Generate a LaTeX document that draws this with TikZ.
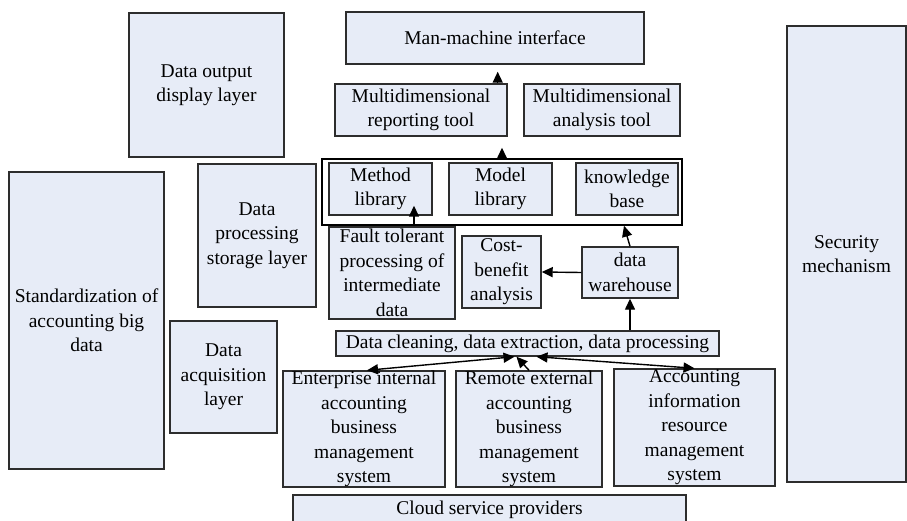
\documentclass[tikz,border=0pt]{standalone}
\usepackage{fontspec}
\setmainfont{Liberation Serif}
\usepackage{tikz}
\usetikzlibrary{arrows.meta, positioning, calc}
\definecolor{boxfill}{RGB}{231,236,247}
\definecolor{boxline}{RGB}{45,45,45}

\tikzset{
  layerbox/.style={draw=boxline, fill=boxfill, line width=1.4pt, align=center,
    inner sep=0pt, font=\fontsize{19.5}{24.5}\selectfont},
  groupbox/.style={draw=black, line width=1.4pt, inner sep=0pt},
  flow/.style={-{Triangle[length=11pt, width=10pt]}, line width=1.4pt},
  twoway/.style={{Triangle[length=11pt, width=10pt]}-{Triangle[length=11pt, width=10pt]}, line width=1.4pt},
}

\begin{document}
\begin{tikzpicture}[x=1pt, y=-1pt]
  \useasboundingbox (0,0) rectangle (907,521);

  % layer labels on the left
  \node[layerbox, minimum width=155, minimum height=144] (outlayer) at (206.5,85) {Data output\\display layer};
  \node[layerbox, minimum width=155, minimum height=297] (standard) at (86.5,320.5) {Standardization of\\accounting big\\data};
  \node[layerbox, minimum width=118, minimum height=143] (proclayer) at (257,235.5) {Data\\processing\\storage layer};
  \node[layerbox, minimum width=107, minimum height=112] (acqlayer) at (223.5,377) {Data\\acquisition\\layer};

  % security on the right
  \node[layerbox, minimum width=119, minimum height=456] (security) at (846.5,254) {Security\\mechanism};

  % output layer
  \node[layerbox, minimum width=298, minimum height=52] (mmi) at (495,38) {Man-machine interface};
  \node[layerbox, minimum width=172, minimum height=52] (report) at (421,110) {Multidimensional\\reporting tool};
  \node[layerbox, minimum width=156, minimum height=52] (analysis) at (602,110) {Multidimensional\\analysis tool};

  % libraries
  \node[groupbox, minimum width=360, minimum height=66] (libs) at (502,192) {};
  \node[layerbox, minimum width=103, minimum height=52] (method) at (380.5,189) {Method\\library};
  \node[layerbox, minimum width=103, minimum height=52] (model) at (500.5,189) {Model\\library};
  \node[layerbox, minimum width=102, minimum height=52] (know) at (627,189) {knowledge\\base};

  % processing and storage
  \node[layerbox, minimum width=126, minimum height=92] (fault) at (392,273) {Fault tolerant\\processing of\\intermediate\\data};
  \node[layerbox, minimum width=79, minimum height=72] (cost) at (501.5,272) {Cost-\\benefit\\analysis};
  \node[layerbox, minimum width=96, minimum height=51] (warehouse) at (630,272.5) {data\\warehouse};
  \node[layerbox, minimum width=383, minimum height=25] (cleaning) at (527.5,343.5) {Data cleaning, data extraction, data processing};

  % acquisition
  \node[layerbox, minimum width=162, minimum height=116] (internal) at (364,429) {Enterprise internal\\accounting\\business\\management\\system};
  \node[layerbox, minimum width=146, minimum height=116] (remote) at (529,429) {Remote external\\accounting\\business\\management\\system};
  \node[layerbox, minimum width=161, minimum height=117] (resource) at (694.5,427.5) {Accounting\\information\\resource\\management\\system};
  \node[layerbox, minimum width=393, minimum height=30] (cloud) at (489.5,510) {Cloud service providers};

  % connectors
  \draw[flow, shorten >=7pt] ([xshift=-10pt]report.north east) -- ([xshift=-10pt]report.north east |- mmi.south);
  \draw[flow, shorten >=11pt] (libs.north) -- (libs.north |- report.south);
  \draw[flow, shorten >=-10pt] ([xshift=22pt]fault.north) -- ([xshift=22pt]fault.north |- method.south);
  \draw[flow] (warehouse.north) -- ([xshift=-6pt]warehouse.north |- libs.south);
  \draw[flow] (warehouse.west) -- (cost.east);
  \draw[flow] (warehouse.south |- cleaning.north) -- (warehouse.south);
  \draw[twoway] ([xshift=-13pt]cleaning.south) -- ([xshift=3pt]internal.north);
  \draw[twoway] ([xshift=9pt]cleaning.south) -- (resource.north);
  \draw[flow] (remote.north) -- ([xshift=-11pt]cleaning.south);
\end{tikzpicture}
\end{document}
